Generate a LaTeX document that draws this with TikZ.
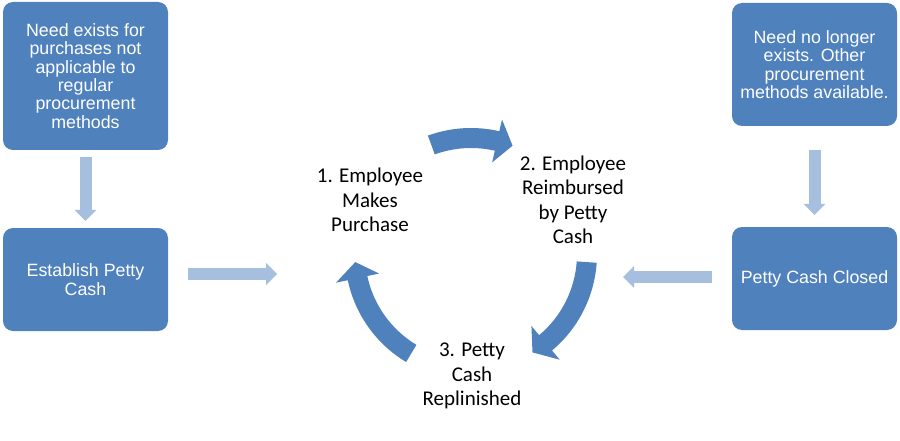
\documentclass[tikz,border=0pt]{standalone}
\usepackage{fontspec}
\setmainfont{Liberation Sans}
\newfontfamily\carlito{Carlito}
\usetikzlibrary{arrows.meta}
\definecolor{boxblue}{RGB}{79,129,189}
\definecolor{lightblue}{RGB}{167,191,222}
% curved cycle arrow: tail angle, head base angle, tip angle
\newcommand{\cyclearrow}[3]{%
  \fill[boxblue] ([shift={(O)}]#1:126) arc[start angle=#1,end angle=#2,radius=126]
    -- ([shift={(O)}]#2:138) -- ([shift={(O)}]#3:116) -- ([shift={(O)}]#2:94)
    -- ([shift={(O)}]#2:106) arc[start angle=#2,end angle=#1,radius=106] -- cycle;}
\tikzset{
  box/.style={fill=boxblue, rounded corners=10pt, text=white, align=center,
    font=\fontsize{17.8}{18.4}\selectfont, minimum width=165pt, inner sep=0pt},
  cyc/.style={align=center, font=\carlito\fontsize{21}{24.5}\selectfont, text=black, inner sep=0pt},
  light/.style={draw=lightblue, line width=12pt,
    -{Triangle[length=11pt,width=22pt,line width=0pt]}}
}
\begin{document}
\begin{tikzpicture}[x=1pt,y=1pt]
\fill[white] (0,0) rectangle (900,440);
\useasboundingbox (0,0) rectangle (900,440);
% boxes
\node[box, minimum height=148pt] (A) at (85.5,364) {Need exists for\\purchases not\\applicable to\\regular\\procurement\\methods};
\node[box, minimum height=103pt] (B) at (85.5,160.5) {Establish Petty\\Cash};
\node[box, minimum height=123pt] (C) at (814.5,375.5) {Need no longer\\exists. Other\\procurement\\methods available.};
\node[box, minimum height=103pt] (D) at (814.5,161.5) {Petty Cash Closed};
% cycle texts
\node[cyc] (T1) at (370,240) {1. Employee\\Makes\\Purchase};
\node[cyc] (T2) at (573,240) {2. Employee\\Reimbursed\\by Petty\\Cash};
\node[cyc] (T3) at (472,64) {3. Petty\\Cash\\Replinished};
% straight connectors
\coordinate (BE) at (277,166);
\coordinate (DW) at (623,163);
\draw[light] ([yshift=-7pt]A.south) -- ([yshift=7pt]B.north);
\draw[light] ([xshift=20pt]B.east |- BE) -- (BE);
\draw[light] ([yshift=-24pt]C.south) -- ([yshift=12pt]D.north);
\draw[light] ([xshift=-20pt]D.west |- DW) -- (DW);
% cycle arrows
\coordinate (O) at (471,186);
\cyclearrow{110}{77}{69}
\cyclearrow{-4}{-50}{-58}
\cyclearrow{-121}{-168}{-176}
\end{tikzpicture}
\end{document}
